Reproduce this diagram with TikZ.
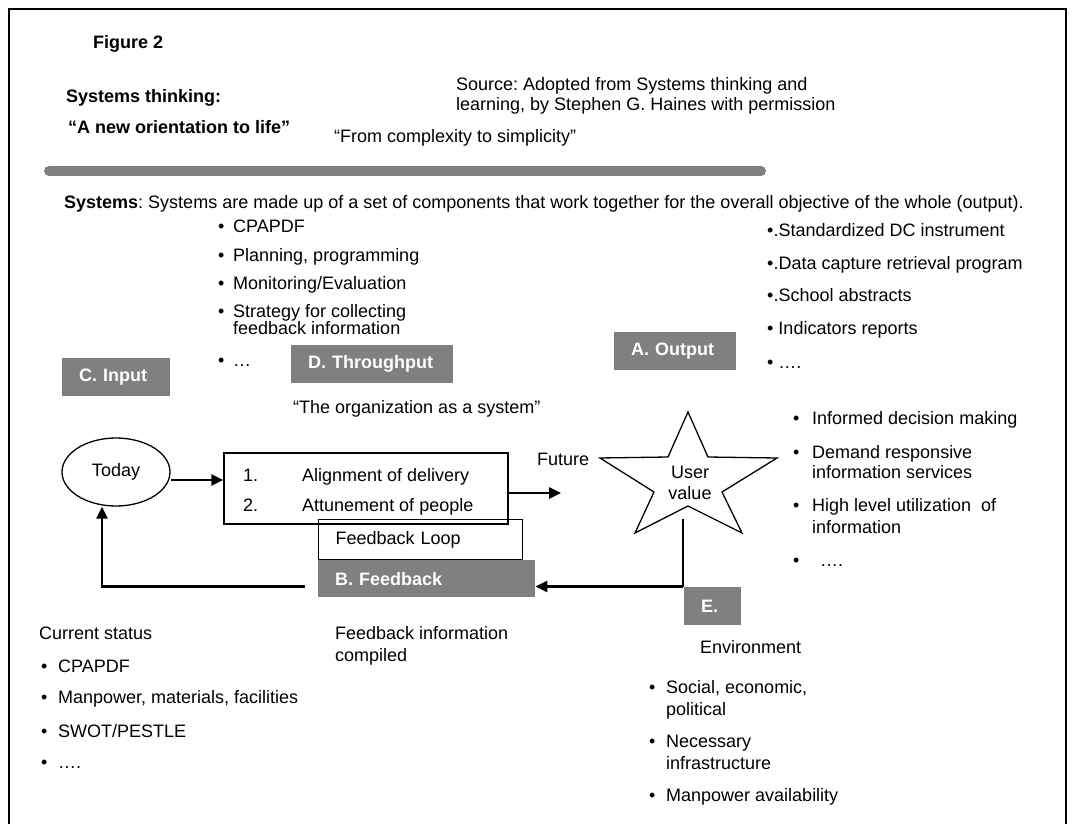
\documentclass[tikz,border=0pt]{standalone}
\usepackage{fontspec}
\setmainfont{Liberation Sans}
\usetikzlibrary{shapes.geometric,arrows.meta}
\definecolor{boxgray}{HTML}{808080}
\frenchspacing
\newcommand\fsz{\fontsize{18pt}{21pt}\selectfont}
\newcommand\bl[1]{\makebox[#1][l]{•}}
\begin{document}
\begin{tikzpicture}[x=1pt,y=-1pt,
  txt/.style={anchor=base west, inner sep=0pt, font=\fsz},
  btxt/.style={anchor=base west, inner sep=0pt, font=\fsz\bfseries},
  tag/.style={anchor=north west, fill=boxgray, text=white, font=\fsz\bfseries,
    inner xsep=17pt, inner ysep=0pt, align=left},
  outline/.style={draw, line width=1.3pt},
  flow/.style={line width=2.6pt, -{Triangle[length=12pt,width=11pt]}},
]
\useasboundingbox (0,0) rectangle (1074,824);

% page frame (open at the bottom)
\draw[line width=2pt] (9,824) -- (9,9) -- (1066,9) -- (1066,824);

% heading block
\node[btxt] (fig) at (93,49) {Figure 2};
\node[btxt] (st) at (66,103) {Systems thinking:};
\node[btxt] (orient) at (68,134) {“A new orientation to life”};
\node[txt] (src1) at (456,91) {Source: Adopted from Systems thinking and};
\node[txt] (src2) at (456,111) {learning, by Stephen G. Haines with permission};
\node[txt] (cplx) at (334,143) {“From complexity to simplicity”};
\draw[line width=10pt, line cap=round, boxgray] (49,171) -- (761,171);
\node[txt] (sysdef) at (64,208) {\textbf{Systems}: Systems are made up of a set of components that work together for the overall objective of the whole (output).};

% throughput items
\node[txt] (t1) at (218,233) {\bl{15pt}CPAPDF};
\node[txt] (t2) at (218,261) {\bl{15pt}Planning, programming};
\node[txt] (t3) at (218,289) {\bl{15pt}Monitoring/Evaluation};
\node[txt] (t4) at (218,317) {\bl{15pt}Strategy for collecting};
\node[txt] (t4b) at (233,334) {feedback information};
\node[txt] (t5) at (218,366) {\bl{15pt}…};

% output items
\node[txt] (o1) at (767,236) {•.Standardized DC instrument};
\node[txt] (o2) at (767,269) {•.Data capture retrieval program};
\node[txt] (o3) at (767,301) {•.School abstracts};
\node[txt] (o4) at (767,334) {• Indicators reports};
\node[txt] (o5) at (767,368) {• ….};

% grey labels
\node[tag, text width=74pt, minimum height=38pt] (input) at (62,358) {C. Input};
\node[tag, text width=128pt, minimum height=38pt] (thru) at (291,345) {D. Throughput};
\node[tag, text width=88pt, minimum height=38pt] (outp) at (614,332) {A. Output};
\node[tag, text width=183pt, minimum height=37pt] (fback) at (318,560) {B. Feedback};
\node[tag, text width=23pt, minimum height=38pt] (envtag) at (684,587) {E.};

\node[txt] (org) at (293,413) {“The organization as a system”};

% flow: today -> organisation -> future
\node[outline, ellipse, minimum width=108pt, minimum height=68pt, inner sep=0pt, font=\fsz] (today) at (116,472) {Today};
\node[outline, minimum width=284pt, minimum height=71pt, inner sep=0pt] (steps) at (366,488.5) {};
\node[txt] (n1) at (243,481) {1.};
\node[txt] (s1) at (302,481) {Alignment of delivery};
\node[txt] (n2) at (243,511) {2.};
\node[txt] (s2) at (302,511) {Attunement of people};

\coordinate (tin) at ([yshift=-8pt]today.east);
\draw[flow] (tin) -- (tin -| steps.west);
\coordinate (fut) at (561,493);
\draw[flow] (steps.east |- fut) -- (fut);
\node[txt] (future) at (537,465) {Future};

% user value star
\draw[line width=1.3pt] (688,412) -- (708,457) -- (777,458) -- (722,492) -- (742,533)
  -- (688,506) -- (635,533) -- (654,492) -- (600,458) -- (668,457) -- cycle;
\node[font=\fsz, align=center, inner sep=0pt] (uv) at (690,483) {User\\value};

% feedback loop
\node[outline, anchor=north west, minimum height=40pt, text width=170pt,
  inner xsep=17pt, inner ysep=0pt, align=left, font=\fsz] (loop) at (318,519) {Feedback Loop};
\coordinate (foot) at (683,519);
\coordinate (corner) at (683,586.5);
\draw[line width=1.5pt] (foot) -- (corner);
\draw[flow] (corner) -- (corner -| fback.east);
\coordinate (fbout) at (305,586.5);
\draw[flow] (fbout) -| ([xshift=-14pt]today.south);

% user value items
\node[txt] (u1) at (793,424) {\bl{19pt}Informed decision making};
\node[txt] (u2) at (793,458) {\bl{19pt}Demand responsive};
\node[txt] (u2b) at (812,478) {information services};
\node[txt] (u3) at (793,511) {\bl{19pt}High level utilization\ \ of};
\node[txt] (u3b) at (812,533) {information};
\node[txt] (u4) at (793,566) {\bl{27pt}….};

% lower texts
\node[txt] (cs) at (39,639) {Current status};
\node[txt] (c1) at (41,672) {\bl{17pt}CPAPDF};
\node[txt] (c2) at (41,703) {\bl{17pt}Manpower, materials, facilities};
\node[txt] (c3) at (41,737) {\bl{17pt}SWOT/PESTLE};
\node[txt] (c4) at (41,768) {\bl{17pt}….};

\node[txt] (fbi) at (335,639) {Feedback information};
\node[txt] (fbi2) at (335,661) {compiled};

\node[txt] (envname) at (700,653) {Environment};
\node[txt] (e1) at (649,693) {\bl{17pt}Social, economic,};
\node[txt] (e1b) at (666,715) {political};
\node[txt] (e2) at (649,747) {\bl{17pt}Necessary};
\node[txt] (e2b) at (666,769) {infrastructure};
\node[txt] (e3) at (649,801) {\bl{17pt}Manpower availability};
\end{tikzpicture}
\end{document}
